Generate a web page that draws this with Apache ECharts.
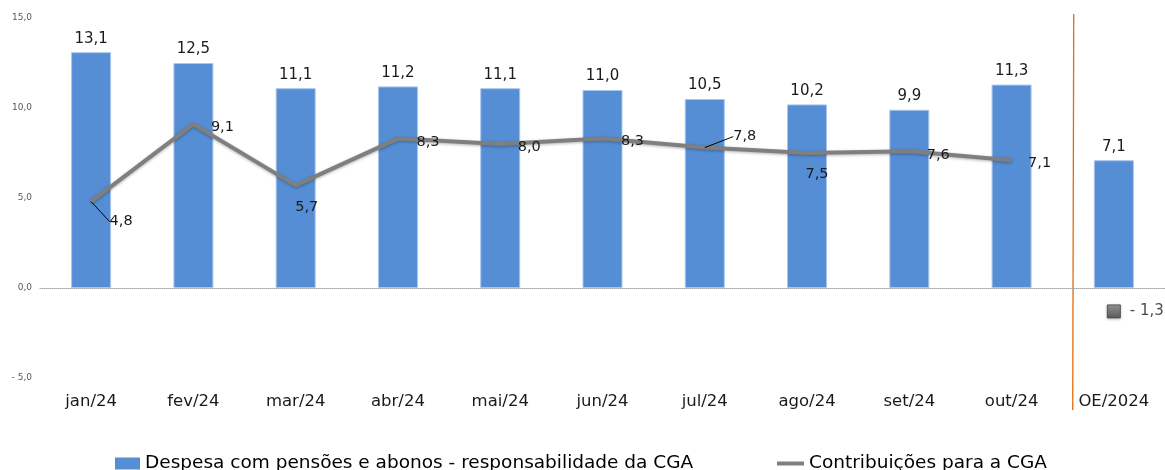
<!DOCTYPE html>
<html><head><meta charset="utf-8">
<script src="https://cdn.jsdelivr.net/npm/echarts@6/dist/echarts.min.js"></script>
<style>html,body{margin:0;padding:0;background:#fff}#c{width:1165px;height:470px}</style>
</head><body><div id="c"></div>
<script>
var categories = ['jan/24','fev/24','mar/24','abr/24','mai/24','jun/24','jul/24','ago/24','set/24','out/24','OE/2024'];
var despesa = [13.1, 12.5, 11.1, 11.2, 11.1, 11.0, 10.5, 10.2, 9.9, 11.3, 7.1];
var contribuicoes = [4.8, 9.1, 5.7, 8.3, 8.0, 8.3, 7.8, 7.5, 7.6, 7.1];
var contribOE = [-1.3];
var yTicks = [-5, 0, 5, 10, 15];

var FONT = 'DejaVu Sans';
function fmt(v){ var s = Math.abs(v).toFixed(1).replace('.', ','); return v < 0 ? '- ' + s : s; }
var lineOffsets = [[30,20],[29,3],[11,22],[30,4],[29,3],[30,3],[40,-11],[10,21],[29,4],[28,3]];
var guide = [true,false,false,false,false,false,true,false,false,false];

var chart = echarts.init(document.getElementById('c'), null, {renderer:'canvas'});
chart.setOption({
  animation: false,
  grid: {left: 40, right: -3, top: 18, bottom: 92, containLabel: false},
  legend: [
    {left: 110, top: 449, itemWidth: 25, itemHeight: 12, data: [{name: 'Despesa com pensões e abonos - responsabilidade da CGA', icon: 'rect', itemStyle: {color: '#558ed5', borderWidth: 0}}],
     textStyle: {fontFamily: FONT, fontSize: 18.5, color: '#000'}},
    {left: 772, top: 449, itemWidth: 27, itemHeight: 4, data: [{name: 'Contribuições para a CGA', icon: 'rect', itemStyle: {color: '#7f7f7f', borderWidth: 0}}],
     textStyle: {fontFamily: FONT, fontSize: 18.5, color: '#000'}}
  ],
  xAxis: {
    type: 'category', data: categories,
    axisLine: {show: true, onZero: true, lineStyle: {color: '#a6a6a6', type: 'dotted', width: 1}},
    axisTick: {show: false},
    axisLabel: {fontFamily: FONT, fontSize: 16.5, color: '#1a1a1a', margin: 15, interval: 0}
  },
  yAxis: {
    type: 'value', min: yTicks[0], max: yTicks[yTicks.length-1], interval: 5,
    axisLine: {show: false}, axisTick: {show: false}, splitLine: {show: false},
    axisLabel: {fontFamily: FONT, fontSize: 9, color: '#595959', margin: 8, formatter: function(v){ return fmt(v); }}
  },
  series: [
    {
      name: 'Despesa com pensões e abonos - responsabilidade da CGA', type: 'bar', data: despesa,
      barWidth: 40,
      itemStyle: {color: '#558ed5', borderColor: '#a9c6ec', borderWidth: 1},
      label: {show: true, position: 'top', distance: 6, fontFamily: FONT, fontSize: 15, color: '#1a1a1a', formatter: function(p){ return fmt(p.value); }}
    },
    {
      name: 'Contribuições para a CGA', type: 'line', data: contribuicoes.map(function(v, i){
        return {value: v, labelLine: {show: guide[i], lineStyle: {color: '#000', width: 1}}};
      }),
      symbol: 'circle', symbolSize: 0.1, showSymbol: true, z: 3,
      lineStyle: {color: '#7f7f7f', width: 4, shadowColor: 'rgba(0,0,0,0.3)', shadowBlur: 3, shadowOffsetY: 1},
      itemStyle: {color: 'rgba(0,0,0,0)'},
      label: {show: true, position: 'inside', fontFamily: FONT, fontSize: 14.5, color: '#1a1a1a', formatter: function(p){ return fmt(p.value); }},
      labelLayout: function(p){ var o = lineOffsets[p.dataIndex] || [0,0]; return {dx: o[0], dy: o[1]}; }
    },
    {
      name: 'OE', type: 'scatter', data: contribOE.map(function(v){ return [categories.length - 1, v]; }),
      symbol: 'rect', symbolSize: 13, z: 4,
      itemStyle: {color: new echarts.graphic.LinearGradient(0,0,0,1,[{offset:0,color:'#8c8c8c'},{offset:1,color:'#3f3f3f'}]), borderColor: '#404040', borderWidth: 1, shadowColor:'rgba(0,0,0,0.35)', shadowBlur:3, shadowOffsetY:1},
      label: {show: true, position: 'right', distance: 9, fontFamily: FONT, fontSize: 15, color: '#1a1a1a', formatter: function(p){ return fmt(p.value[1]); }}
    }
  ]
});
var p9 = chart.convertToPixel({xAxisIndex:0}, 9), p10 = chart.convertToPixel({xAxisIndex:0}, 10);
var xs = (p9 + p10) / 2 + 11;
chart.setOption({graphic: [{type: 'line', shape: {x1: xs, y1: 14, x2: xs - 1, y2: 410}, style: {stroke: '#e46c0a', lineWidth: 1.3}, silent: true}]});
</script></body></html>
